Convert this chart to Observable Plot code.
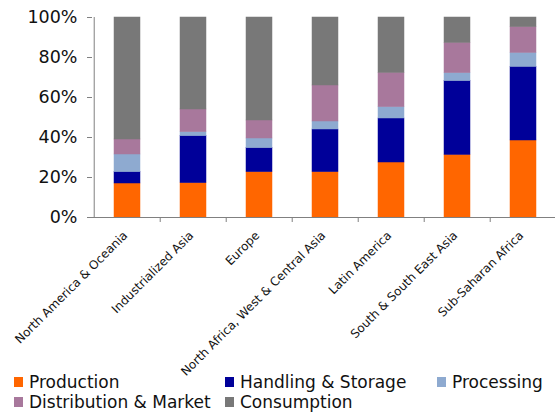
<!DOCTYPE html>
<html>
<head>
<meta charset="utf-8">
<script src="https://cdn.jsdelivr.net/npm/d3@7"></script>
<script src="https://cdn.jsdelivr.net/npm/@observablehq/plot@0.6"></script>
<style>
  body { margin: 0; background: #fff; font-family: "DejaVu Sans", Verdana, sans-serif; color: #111; }
  #chart svg { display: block; overflow: visible; }
  #legend { display: grid; grid-template-columns: 211px 212px auto; padding-left: 14px; font-size: 17px; line-height: 20px; }
  #legend .item { display: flex; align-items: center; white-space: nowrap; }
  #legend .sw { width: 9px; height: 10px; margin-right: 6px; flex: none; }
</style>
</head>
<body>
<div id="chart"></div>
<div id="legend"></div>
<script>
// Share of food loss and waste by supply-chain stage, per region (percent)
const regions = [
  "North America & Oceania",
  "Industrialized Asia",
  "Europe",
  "North Africa, West & Central Asia",
  "Latin America",
  "South & South East Asia",
  "Sub-Saharan Africa"
];
const stages = ["Production", "Handling & Storage", "Processing", "Distribution & Market", "Consumption"];
const stageColors = ["#ff6600", "#000099", "#8eaad0", "#a8789c", "#787878"];

const production   = [17.0, 17.2, 22.7, 22.7, 27.5, 31.3, 38.5];
const handling     = [5.7, 23.5, 12.0, 21.3, 22.0, 36.9, 36.8];
const processing   = [8.8, 2.0, 4.8, 4.0, 5.7, 4.0, 7.0];
const distribution = [7.5, 11.3, 9.0, 18.0, 17.1, 15.1, 12.9];
const consumption  = [61.0, 46.0, 51.5, 34.0, 27.7, 12.7, 4.8];

const yTicks = [0, 20, 40, 60, 80, 100];

const series = [production, handling, processing, distribution, consumption];
const rows = [];
regions.forEach((region, i) => {
  stages.forEach((stage, s) => rows.push({region, stage, value: series[s][i]}));
});

const width = 555, height = 372;
const marginLeft = 92, marginRight = -3, marginTop = 17, marginBottom = 155;
const step = (width - marginLeft - marginRight) / regions.length;
const axisGray = "#808080";

const chart = Plot.plot({
  width, height, marginLeft, marginRight, marginTop, marginBottom,
  style: {fontFamily: "DejaVu Sans, Verdana, sans-serif", color: "#111", background: "#fff"},
  x: {domain: regions, paddingInner: 0.61, paddingOuter: 0.305, label: null},
  y: {domain: [0, 100], label: null},
  color: {domain: stages, range: stageColors},
  marks: [
    Plot.barY(rows, {x: "region", y: "value", fill: "stage", stroke: "stage", strokeWidth: 0.5}),
    // vertical axis line
    Plot.ruleX([regions[0]], {y1: 0, y2: 100, dx: -step / 2, stroke: axisGray}),
    // baseline
    Plot.ruleY([0], {stroke: axisGray}),
    // tick marks between categories
    Plot.ruleX(regions.slice(1), {y1: 0, y2: 0, insetBottom: -5, dx: -step / 2, stroke: axisGray}),
    Plot.axisY({ticks: yTicks, tickFormat: d => d + "%", tickSize: 5, tickPadding: 10, fontSize: 17.5, stroke: axisGray, label: null}),
    Plot.axisX({tickSize: 0, tickRotate: -45, tickPadding: 16, dx: -2, fontSize: 12, label: null})
  ]
});
document.getElementById("chart").appendChild(chart);

const legend = document.getElementById("legend");
stages.forEach((stage, i) => {
  const item = document.createElement("div");
  item.className = "item";
  const sw = document.createElement("span");
  sw.className = "sw";
  sw.style.background = stageColors[i];
  item.appendChild(sw);
  item.appendChild(document.createTextNode(stage));
  legend.appendChild(item);
});
</script>
</body>
</html>
